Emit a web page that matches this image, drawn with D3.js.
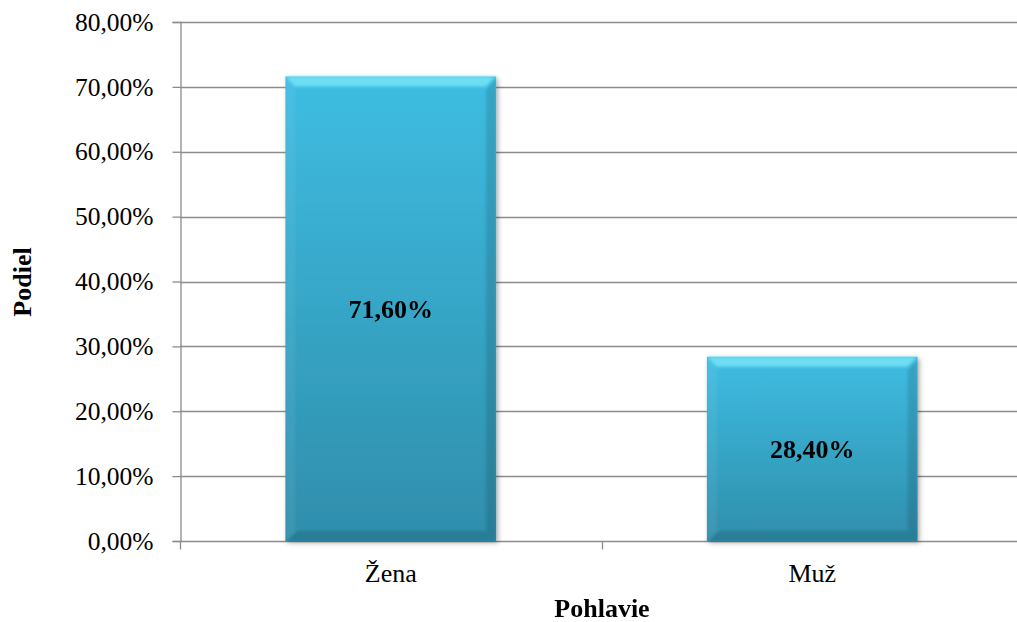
<!DOCTYPE html>
<html>
<head>
<meta charset="utf-8">
<script src="https://cdn.jsdelivr.net/npm/d3@7"></script>
<style>
  html, body { margin: 0; padding: 0; background: #fff; }
  svg { display: block; }
  text { font-family: "Liberation Serif", "Times New Roman", serif; fill: #000; }
</style>
</head>
<body>
<svg id="chart" width="1017" height="622"></svg>
<script>
const categories = ["Žena", "Muž"];
const shares = [71.60, 28.40];
const yTicks = [0, 10, 20, 30, 40, 50, 60, 70, 80];
const xTitle = "Pohlavie";
const yTitle = "Podiel";

const W = 1017, H = 622;
const plot = { left: 180, right: 1023, top: 22, bottom: 541 };

const svg = d3.select("#chart");
const fmt = v => v.toFixed(2).replace(".", ",") + "%";

const x = d3.scaleBand().domain(categories).range([plot.left, plot.right]).paddingInner(0.5).paddingOuter(0.25);
const y = d3.scaleLinear().domain([0, 80]).range([plot.bottom, plot.top]);

const defs = svg.append("defs");
const grad = defs.append("linearGradient").attr("id", "barFill").attr("x1", 0).attr("y1", 0).attr("x2", 0).attr("y2", 1);
grad.append("stop").attr("offset", "0%").attr("stop-color", "#3ebde2");
grad.append("stop").attr("offset", "100%").attr("stop-color", "#2f8eab");

const shadow = defs.append("filter").attr("id", "barShadow").attr("x", "-10%").attr("y", "-10%").attr("width", "125%").attr("height", "125%");
shadow.append("feDropShadow").attr("dx", 2).attr("dy", 2).attr("stdDeviation", 2.5).attr("flood-color", "#000").attr("flood-opacity", 0.3);

const edgeBlur = defs.append("filter").attr("id", "soft");
edgeBlur.append("feGaussianBlur").attr("stdDeviation", 1.5);

// horizontal gridlines
svg.append("g").selectAll("line").data(yTicks.filter(t => t > 0)).join("line")
  .attr("x1", plot.left).attr("x2", W)
  .attr("y1", d => Math.round(y(d)) + 0.5).attr("y2", d => Math.round(y(d)) + 0.5)
  .attr("stroke", "#8c8c8c").attr("stroke-width", 1.3);

// y axis
const yAxis = svg.append("g").attr("transform", `translate(${plot.left + 0.5},0)`)
  .call(d3.axisLeft(y).tickValues(yTicks).tickFormat(fmt).tickSize(8).tickPadding(19));
yAxis.attr("font-family", null).attr("font-size", null);
yAxis.select(".domain").attr("stroke", "#8c8c8c").attr("stroke-width", 1.3);
yAxis.selectAll(".tick line").attr("stroke", "#8c8c8c").attr("stroke-width", 1.3);
yAxis.selectAll(".tick text").style("font-size", "25.5px").attr("fill", "#000");

// x axis baseline and category separators
const xAxisG = svg.append("g").attr("transform", `translate(0,${Math.round(plot.bottom) + 0.5})`);
xAxisG.append("line").attr("x1", plot.left).attr("x2", W).attr("stroke", "#8c8c8c").attr("stroke-width", 1.3);
const edges = categories.map(c => x(c) - x.step() * 0.25);
edges.push(plot.right);
xAxisG.selectAll(".sep").data(edges).join("line").attr("class", "sep")
  .attr("x1", d => Math.round(d) + 0.5).attr("x2", d => Math.round(d) + 0.5)
  .attr("y1", 0).attr("y2", 8).attr("stroke", "#8c8c8c").attr("stroke-width", 1.3);
xAxisG.selectAll(".cat").data(categories).join("text").attr("class", "cat")
  .attr("x", d => x(d) + x.bandwidth() / 2).attr("y", 40.5)
  .attr("text-anchor", "middle").style("font-size", "26px").text(d => d);

// bars with bevelled edges
const bars = svg.append("g").selectAll("g").data(categories.map((c, i) => ({ c, v: shares[i] }))).join("g");
bars.each(function(d) {
  const g = d3.select(this);
  const x0 = x(d.c), x1 = x0 + x.bandwidth();
  const y0 = y(d.v), y1 = y(0);
  const b = 10;
  g.append("rect").attr("x", x0).attr("y", y0).attr("width", x1 - x0).attr("height", y1 - y0)
    .attr("fill", "url(#barFill)").attr("filter", "url(#barShadow)");
  const bevel = g.append("g").attr("filter", "url(#soft)");
  // top bevel
  bevel.append("polygon").attr("points", [[x0, y0], [x1, y0], [x1 - b, y0 + b], [x0 + b, y0 + b]].join(" "))
    .attr("fill", "#7ae6f7").attr("opacity", 0.8);
  // left bevel
  bevel.append("polygon").attr("points", [[x0, y0], [x0 + b, y0 + b], [x0 + b, y1 - b], [x0, y1]].join(" "))
    .attr("fill", "#ffffff").attr("opacity", 0.06);
  // right bevel
  bevel.append("polygon").attr("points", [[x1, y0], [x1 - b, y0 + b], [x1 - b, y1 - b], [x1, y1]].join(" "))
    .attr("fill", "#000000").attr("opacity", 0.12);
  // bottom bevel
  bevel.append("polygon").attr("points", [[x0, y1], [x0 + b, y1 - b], [x1 - b, y1 - b], [x1, y1]].join(" "))
    .attr("fill", "#000000").attr("opacity", 0.12);
  g.append("text").attr("x", (x0 + x1) / 2).attr("y", (y0 + y1) / 2 + 9.5)
    .attr("text-anchor", "middle").style("font-size", "26px").style("font-weight", "bold")
    .text(fmt(d.v));
});

// axis titles
svg.append("text").attr("x", 602).attr("y", 617).attr("text-anchor", "middle")
  .style("font-size", "26px").style("font-weight", "bold").text(xTitle);
svg.append("text").attr("transform", "translate(31,282) rotate(-90)").attr("text-anchor", "middle")
  .style("font-size", "26px").style("font-weight", "bold").text(yTitle);
</script>
</body>
</html>
